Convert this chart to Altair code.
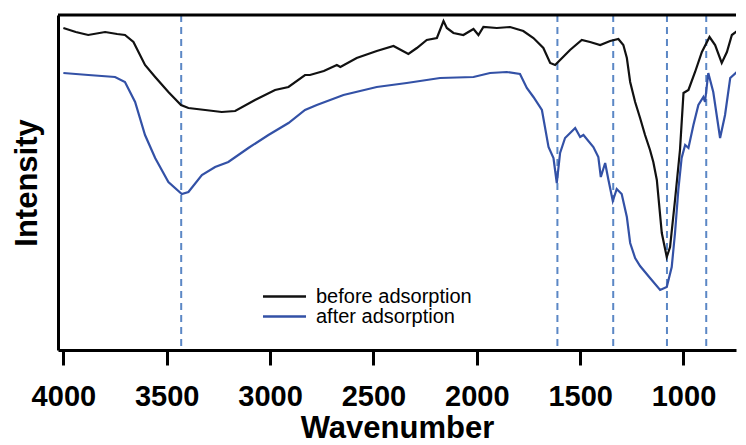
import altair as alt
import pandas as pd

# ---- data (wavenumber in cm-1, intensity in arbitrary units) ----
before_wn = [4000, 3940, 3880, 3798, 3740, 3702, 3661, 3605, 3556, 3492, 3431, 3395, 3314, 3234,
             3169, 3073, 2976, 2911, 2831, 2807, 2740, 2677, 2660, 2581, 2484, 2403, 2331, 2290,
             2242, 2193, 2161, 2145, 2113, 2065, 2016, 1992, 1968, 1903, 1839, 1775, 1726, 1678,
             1645, 1621, 1597, 1549, 1492, 1452, 1403, 1355, 1315, 1291, 1274, 1258, 1234, 1210,
             1186, 1162, 1146, 1129, 1105, 1081, 1065, 1041, 1017, 1000, 976, 944, 911, 874,
             847, 815, 790, 766, 734, 702]
before_int = [322, 318, 315, 318, 316, 315, 308, 285, 273, 258, 245, 242, 240, 238,
              239, 250, 260, 263, 275, 275, 279, 285, 283, 292, 299, 304, 296, 302,
              310, 312, 329, 322, 317, 315, 321, 315, 323, 322, 323, 319, 312, 302,
              287, 285, 290, 300, 310, 308, 305, 309, 311, 305, 292, 268, 248, 232,
              215, 200, 188, 170, 117, 93, 103, 150, 200, 257, 260, 278, 298, 313,
              305, 287, 298, 315, 320, 325]

after_wn = [4000, 3879, 3750, 3702, 3653, 3605, 3556, 3492, 3427, 3395, 3330, 3266, 3202, 3105,
            3008, 2911, 2831, 2774, 2645, 2484, 2339, 2178, 2016, 1936, 1855, 1791, 1758, 1726,
            1685, 1653, 1629, 1613, 1597, 1573, 1524, 1500, 1484, 1436, 1412, 1400, 1379, 1363,
            1342, 1323, 1299, 1274, 1258, 1234, 1210, 1162, 1113, 1081, 1057, 1041, 1025, 1009,
            992, 976, 952, 928, 904, 896, 880, 856, 823, 799, 774, 742, 702]
after_int = [277, 275, 273, 268, 248, 215, 192, 168, 156, 158, 175, 183, 188, 202,
             215, 227, 240, 245, 255, 263, 267, 272, 273, 277, 278, 276, 262, 253,
             240, 203, 192, 167, 197, 212, 222, 213, 215, 203, 193, 173, 187, 170,
             149, 161, 156, 133, 107, 92, 84, 72, 60, 63, 83, 117, 160, 192,
             205, 202, 225, 245, 253, 248, 277, 258, 212, 235, 272, 278, 273]

band_wn = [3430, 1610, 1340, 1080, 890]
series_names = ["before adsorption", "after adsorption"]
series_colors = ["#111111", "#3351a6"]
x_ticks = [4000, 3500, 3000, 2500, 2000, 1500, 1000]

rows = []
for name, wn, inten in [(series_names[0], before_wn, before_int),
                        (series_names[1], after_wn, after_int)]:
    for i, (w, v) in enumerate(zip(wn, inten)):
        rows.append({"series": name, "wn": w, "I": v, "idx": i})
df = pd.DataFrame(rows)
bands = pd.DataFrame({"wn": band_wn})
frame = pd.DataFrame({"k": [0]})

FONT = "Liberation Sans"
x_scale = alt.Scale(domain=[746, 4026], reverse=True, nice=False, zero=False)
y_scale = alt.Scale(domain=[0, 335], nice=False, zero=False)

x_axis = alt.Axis(values=x_ticks, format="d", grid=False,
                  labelFont=FONT, labelFontSize=29, labelFontWeight="bold", labelColor="black",
                  labelPadding=17, labelFlush=False,
                  tickColor="black", tickWidth=3, tickSize=15,
                  domainColor="black", domainWidth=3,
                  title="Wavenumber", titleFont=FONT, titleFontSize=31, titleFontWeight="bold",
                  titleColor="black", titlePadding=2)
y_axis = alt.Axis(labels=False, ticks=False, grid=False,
                  domainColor="black", domainWidth=3,
                  title="Intensity", titleFont=FONT, titleFontSize=31, titleFontWeight="bold",
                  titleColor="black", titlePadding=15)

vlines = alt.Chart(bands).mark_rule(color="#5b87c5", strokeDash=[7, 5], strokeWidth=2).encode(
    x=alt.X("wn:Q", scale=x_scale, axis=x_axis)
)

lines = alt.Chart(df).mark_line(strokeWidth=2.2, clip=True).encode(
    x=alt.X("wn:Q", scale=x_scale, axis=x_axis),
    y=alt.Y("I:Q", scale=y_scale, axis=y_axis),
    color=alt.Color("series:N",
                    scale=alt.Scale(domain=series_names, range=series_colors),
                    legend=alt.Legend(title=None, orient="none", legendX=216.5, legendY=271.5,
                                      symbolType="M-2.53,0H2.53", symbolSize=289,
                                      symbolStrokeWidth=2.5, symbolFillColor="transparent",
                                      labelFont=FONT, labelFontSize=20, labelColor="black",
                                      labelOffset=21.5, rowPadding=0, padding=0)),
    order="idx:Q",
)

top_border = alt.Chart(frame).mark_rule(color="black", strokeWidth=3).encode(
    y=alt.value(0)
)

chart = alt.layer(vlines, lines, top_border).properties(
    width=678, height=335,
    padding={"left": 3, "top": 5, "right": 0, "bottom": 0},
).configure_view(stroke=None)

chart.save("out.html", embed_options={"renderer": "svg", "actions": False})
